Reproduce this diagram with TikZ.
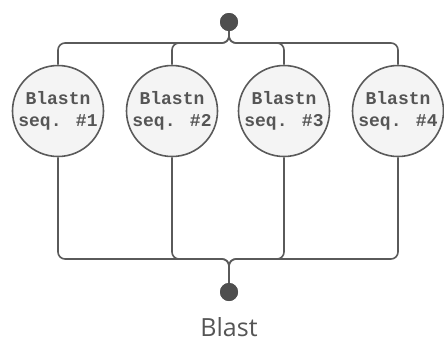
\documentclass[tikz,border=0pt]{standalone}
\usepackage{fontspec}
\setmainfont{Open Sans}
\newfontfamily\monof{Liberation Mono}
\begin{document}
\begin{tikzpicture}[x=1pt,y=-1pt,
  link/.style={draw=linec, line width=1.6pt, rounded corners=7pt},
  seqnode/.style={circle, draw=linec, line width=1.6pt, fill=circfill, minimum size=91pt, inner sep=0pt,
    align=center, font=\monof\bfseries\fontsize{18}{21.5}\selectfont, text=textc},
  dotnode/.style={circle, fill=dotc, minimum size=18pt, inner sep=0pt}]
\definecolor{linec}{HTML}{5A5A5A}
\definecolor{circfill}{HTML}{F4F4F4}
\definecolor{textc}{HTML}{555555}
\definecolor{dotc}{HTML}{4E4E4E}
\useasboundingbox (0,0) rectangle (444,341);
\node[dotnode] (top) at (229,22) {};
\node[dotnode] (bot) at (229,292) {};
\node[font=\fontsize{25}{28}\selectfont, text=textc] (lbl) at (229,327) {Blast};
\node[seqnode] (s1) at (58,111) {Blastn\\seq. \#1};
\node[seqnode] (s2) at (172,111) {Blastn\\seq. \#2};
\node[seqnode] (s3) at (284,111) {Blastn\\seq. \#3};
\node[seqnode] (s4) at (398,111) {Blastn\\seq. \#4};
\coordinate (tj) at (229,43);
\coordinate (bj) at (229,259);
\foreach \s in {s1,s2,s3,s4}{
  \draw[link] (top) -- (tj) -| (\s.north);
  \draw[link] (\s.south) |- (bj) -- (bot);
}
\node[dotnode] at (top) {};
\node[dotnode] at (bot) {};
\end{tikzpicture}
\end{document}
